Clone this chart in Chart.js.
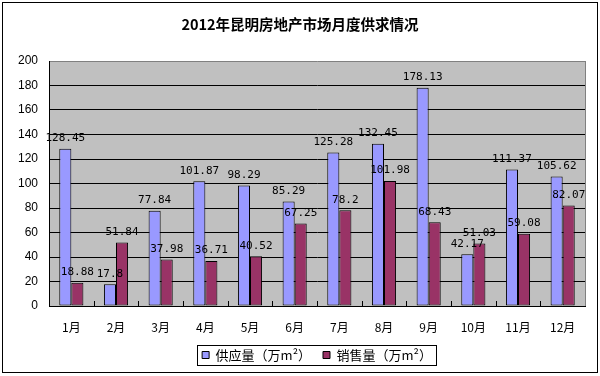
<!DOCTYPE html>
<html>
<head>
<meta charset="utf-8">
<script src="https://cdn.jsdelivr.net/npm/chart.js@4/dist/chart.umd.min.js"></script>
<style>
html,body{margin:0;padding:0;background:#fff;}
#wrap{position:relative;width:600px;height:376px;}
canvas{display:block;}
</style>
</head>
<body>
<div id="wrap"><canvas id="c" width="600" height="376"></canvas></div>
<script>
const chartTitle = '2012年昆明房地产市场月度供求情况';
const categories = ['1月','2月','3月','4月','5月','6月','7月','8月','9月','10月','11月','12月'];
const seriesNames = ['供应量（万m²）','销售量（万m²）'];
const supply = [128.45, 17.8, 77.84, 101.87, 98.29, 85.29, 125.28, 132.45, 178.13, 42.17, 111.37, 105.62];
const sales = [18.88, 51.84, 37.98, 36.71, 40.52, 67.25, 78.2, 101.98, 68.43, 51.03, 59.08, 82.07];
const yMin = 0, yMax = 200, yStep = 20;

const decorPlugin = {
  id: 'decor',
  beforeDraw(chart) {
    const ctx = chart.ctx, a = chart.chartArea;
    ctx.save();
    ctx.fillStyle = '#ffffff';
    ctx.fillRect(0, 0, chart.width, chart.height);
    ctx.fillStyle = '#C0C0C0';
    ctx.fillRect(a.left, a.top, a.right - a.left, a.bottom - a.top);
    ctx.restore();
  },
  afterDatasetsDraw(chart) {
    const ctx = chart.ctx;
    ctx.save();
    ctx.font = '11px "DejaVu Sans Mono"';
    ctx.fillStyle = '#000';
    ctx.textAlign = 'center';
    ctx.textBaseline = 'middle';
    chart.data.datasets.forEach((ds, di) => {
      const meta = chart.getDatasetMeta(di);
      meta.data.forEach((el, i) => {
        ctx.fillText(String(ds.data[i]), el.x, el.y - 10.5);
      });
    });
    ctx.restore();
  },
  afterDraw(chart) {
    const ctx = chart.ctx, a = chart.chartArea;
    const xs = chart.scales.x;
    ctx.save();
    ctx.strokeStyle = '#808080';
    ctx.lineWidth = 1;
    ctx.beginPath();
    ctx.moveTo(Math.round(a.right) + 0.5, a.top);
    ctx.lineTo(Math.round(a.right) + 0.5, a.bottom);
    ctx.stroke();
    ctx.strokeStyle = '#000';
    ctx.beginPath();
    for (let i = 1; i < categories.length; i++) {
      const x = Math.round((xs.getPixelForValue(i - 1) + xs.getPixelForValue(i)) / 2) + 0.5;
      ctx.moveTo(x, a.bottom);
      ctx.lineTo(x, a.bottom - 5);
    }
    ctx.stroke();
    const hb = chart.legend.legendHitBoxes;
    if (hb && hb.length) {
      let l = Infinity, r = -Infinity, t = Infinity, b = -Infinity;
      hb.forEach(h => { l = Math.min(l, h.left); r = Math.max(r, h.left + h.width); t = Math.min(t, h.top); b = Math.max(b, h.top + h.height); });
      ctx.strokeStyle = '#000';
      ctx.strokeRect(Math.round(l - 5) + 0.5, Math.round(t - 4) + 0.5, Math.round(r - l + 9), Math.round(b - t + 7));
    }
    ctx.strokeStyle = '#000';
    ctx.strokeRect(2.5, 2.5, 595, 370);
    ctx.restore();
  }
};

new Chart(document.getElementById('c'), {
  type: 'bar',
  data: {
    labels: categories,
    datasets: [
      { label: seriesNames[0], data: supply, backgroundColor: '#9999FF', borderColor: '#000', borderWidth: 1, borderSkipped: false },
      { label: seriesNames[1], data: sales, backgroundColor: '#993366', borderColor: '#000', borderWidth: 1, borderSkipped: false }
    ]
  },
  options: {
    responsive: false,
    animation: false,
    devicePixelRatio: 1,
    datasets: { bar: { categoryPercentage: 0.54, barPercentage: 1 } },
    layout: { padding: { left: 0, right: 0, top: 0, bottom: 4.5 } },
    plugins: {
      tooltip: { enabled: false },
      title: {
        display: true,
        text: chartTitle,
        color: '#000',
        font: { family: '"Noto Sans CJK SC"', size: 14.5, weight: 'bold' },
        padding: { top: 16, bottom: 27.6 }
      },
      legend: {
        display: true,
        position: 'bottom',
        fullSize: false,
        labels: {
          color: '#000',
          boxWidth: 7,
          boxHeight: 7,
          padding: 12,
          font: { family: '"Noto Sans CJK SC"', size: 13 }
        }
      }
    },
    scales: {
      x: {
        grid: { display: false },
        border: { display: true, color: '#000', width: 1 },
        ticks: { color: '#000', padding: 6, font: { family: '"Noto Sans CJK SC"', size: 12 } },
        afterFit(s) { s.height = 30.5; }
      },
      y: {
        min: yMin, max: yMax,
        ticks: { stepSize: yStep, color: '#000', padding: 11, font: { family: '"Liberation Sans"', size: 12 } },
        grid: { color: c => (c.tick && c.tick.value === yMax) ? '#808080' : '#000', lineWidth: 1, drawTicks: false },
        border: { display: true, color: '#000', width: 1 },
        afterFit(s) { s.width = 49; }
      },
      y2: {
        type: 'linear',
        position: 'right',
        display: true,
        grid: { display: false, drawTicks: false },
        border: { display: false },
        ticks: { display: false },
        afterFit(s) { s.width = 15; }
      }
    }
  },
  plugins: [decorPlugin]
});
</script>
</body>
</html>
